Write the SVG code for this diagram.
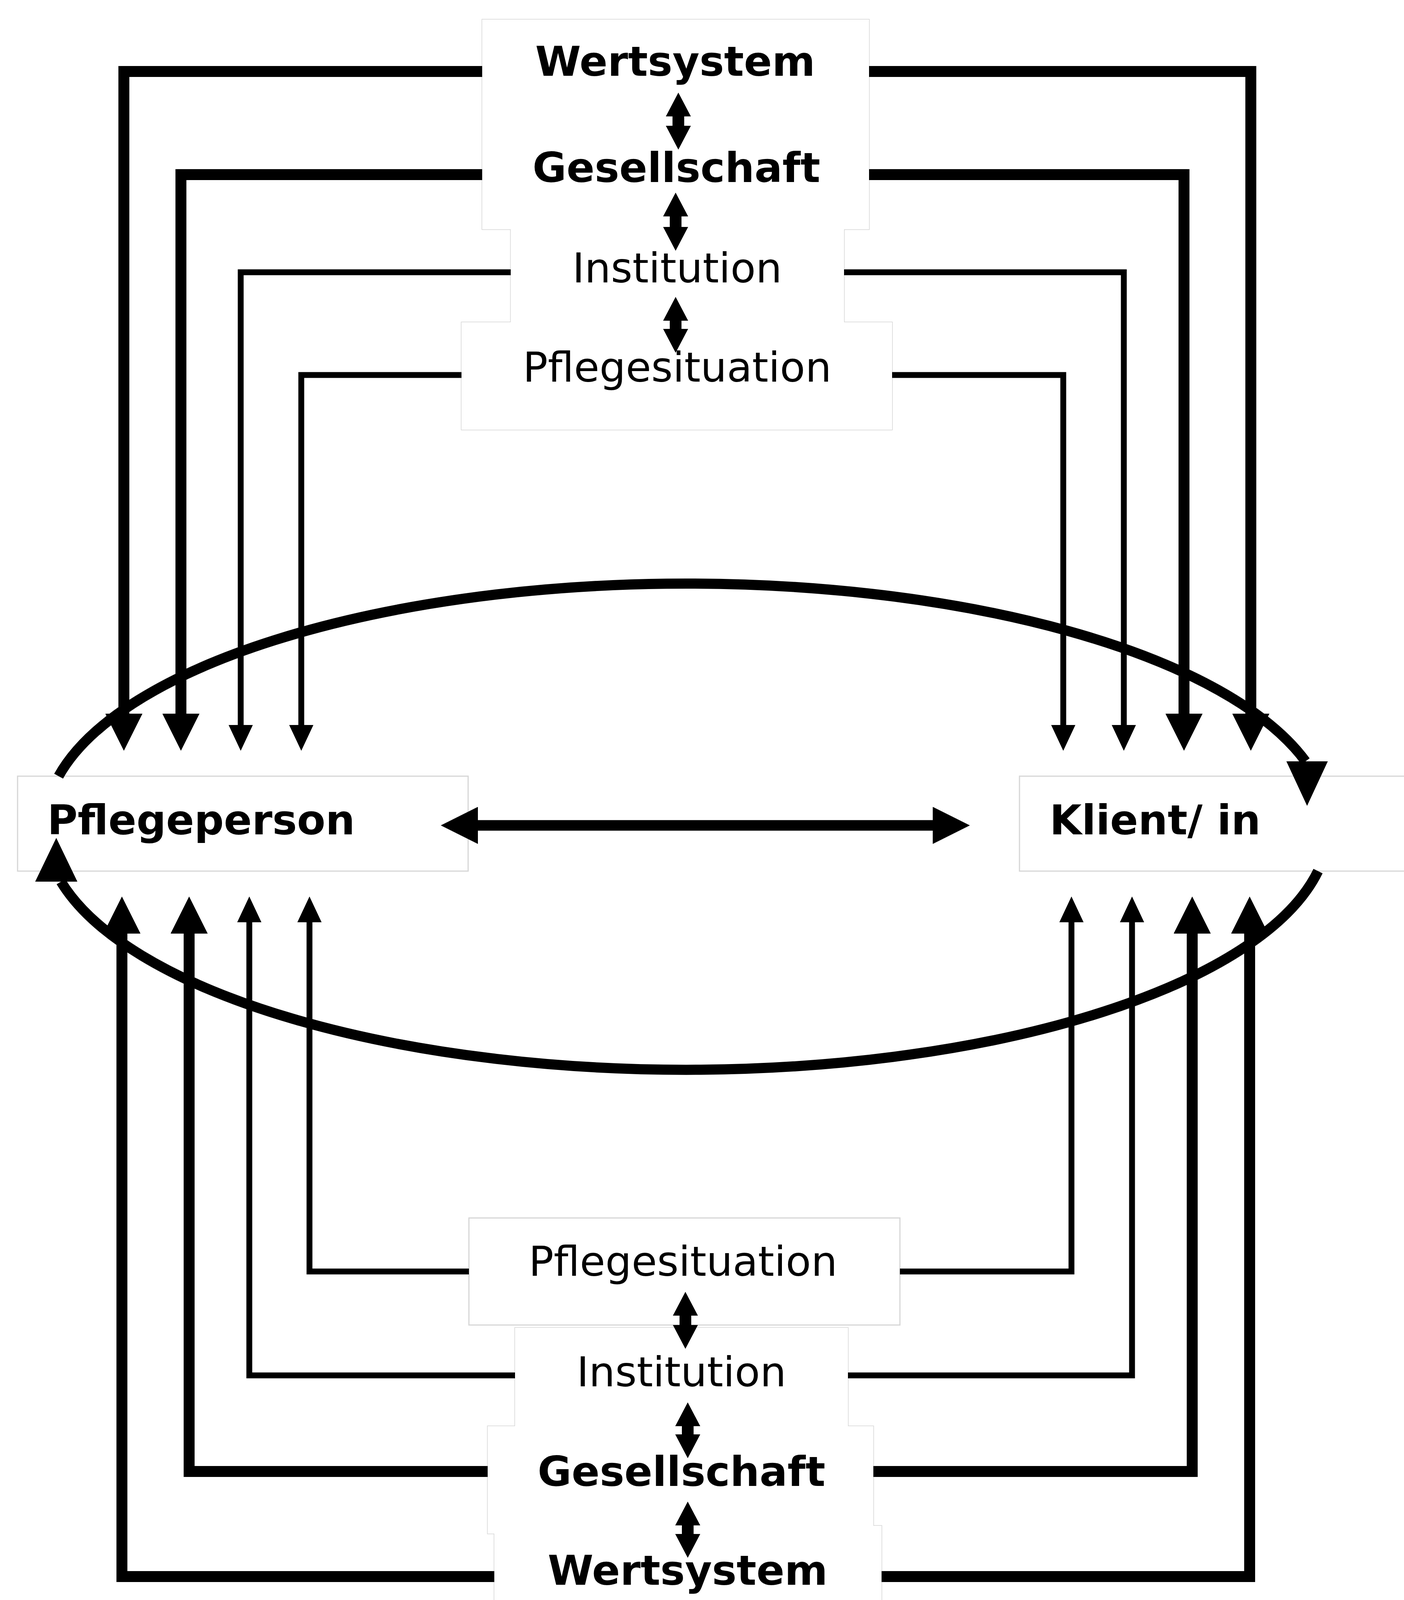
<svg xmlns="http://www.w3.org/2000/svg" width="3593" height="4168" viewBox="0 0 3593 4168">
<defs>
<style>
.frame{fill:#fff;stroke:#d6d6d6;stroke-width:3}
.box{fill:#fff;stroke:none}
.lbl{font-family:"DejaVu Sans","Liberation Sans",sans-serif;font-size:106px;fill:#000;text-anchor:middle}
.st{text-anchor:start}
.b{font-weight:bold}
.thick{fill:none;stroke:#000;stroke-width:28;stroke-linejoin:miter;marker-end:url(#hThick)}
.thin{fill:none;stroke:#000;stroke-width:15;stroke-linejoin:miter;marker-end:url(#hThin)}
.arc{fill:none;stroke:#000;stroke-width:26}
.dbl{stroke:#000;stroke-width:30;marker-start:url(#hDbl);marker-end:url(#hDbl)}
.mid{stroke:#000;stroke-width:27;marker-start:url(#hThick);marker-end:url(#hThick)}
.head{fill:#000}
</style>
<marker id="hThick" markerUnits="userSpaceOnUse" viewBox="0 0 95 95" refX="0" refY="47.5" markerWidth="95" markerHeight="95" orient="auto-start-reverse"><path d="M0,0 L95,47.5 L0,95 z" fill="#000"/></marker>
<marker id="hThin" markerUnits="userSpaceOnUse" viewBox="0 0 66 62" refX="0" refY="31" markerWidth="66" markerHeight="62" orient="auto"><path d="M0,0 L66,31 L0,62 z" fill="#000"/></marker>
<marker id="hDbl" markerUnits="userSpaceOnUse" viewBox="0 0 61 64" refX="0" refY="32" markerWidth="61" markerHeight="64" orient="auto-start-reverse"><path d="M0,0 L61,32 L0,64 z" fill="#000"/></marker>
</defs>
<rect width="3593" height="4168" fill="#fff"/>

<g id="nodes">
  <path id="top-stack-frame" class="frame" d="M1234,50 H2224 V587 H2160 V825 H2283 V1100 H1181 V825 H1307 V587 H1234 Z"/>
  <g id="wertsystem-top">
    <rect class="box" x="1234" y="50" width="990" height="268"/>
    <text class="lbl b" x="1728" y="194">Wertsystem</text>
  </g>
  <g id="gesellschaft-top">
    <rect class="box" x="1234" y="318" width="990" height="269"/>
    <text class="lbl b" x="1731" y="466">Gesellschaft</text>
  </g>
  <g id="institution-top">
    <rect class="box" x="1307" y="587" width="853" height="238"/>
    <text class="lbl" x="1733" y="723">Institution</text>
  </g>
  <g id="pflegesituation-top">
    <rect class="box" x="1181" y="825" width="1102" height="275"/>
    <text class="lbl" x="1733" y="977">Pflegesituation</text>
  </g>

  <g id="pflegeperson">
    <rect class="frame" x="45" y="1987" width="1153" height="243"/>
    <text class="lbl b st" x="121" y="2136">Pflegeperson</text>
  </g>
  <g id="klient">
    <rect class="frame" x="2609" y="1987" width="1000" height="243"/>
    <text class="lbl b st" x="2686" y="2136">Klient/ in</text>
  </g>

  <g id="pflegesituation-bottom">
    <rect class="frame" x="1200" y="3118" width="1103" height="274"/>
    <text class="lbl" x="1748" y="3266">Pflegesituation</text>
  </g>
  <path id="bottom-stack-frame" class="frame" d="M1318,3399 H2170 V3651 H2235 V3906 H2256 V4175 H1265 V3926 H1248 V3651 H1318 Z"/>
  <g id="institution-bottom">
    <rect class="box" x="1318" y="3399" width="852" height="252"/>
    <text class="lbl" x="1744" y="3549">Institution</text>
  </g>
  <g id="gesellschaft-bottom">
    <rect class="box" x="1248" y="3651" width="987" height="275"/>
    <text class="lbl b" x="1744" y="3804">Gesellschaft</text>
  </g>
  <g id="wertsystem-bottom">
    <rect class="box" x="1265" y="3926" width="991" height="245"/>
    <rect class="box" x="2235" y="3906" width="21" height="20"/>
    <text class="lbl b" x="1760" y="4057">Wertsystem</text>
  </g>
</g>

<g id="connectors">
  <!-- top, left side -->
  <path class="thick" d="M1234,183 H317 V1827"/>
  <path class="thick" d="M1234,447 H463 V1827"/>
  <path class="thin" d="M1307,697 H616 V1856"/>
  <path class="thin" d="M1181,960 H771 V1856"/>
  <!-- top, right side -->
  <path class="thick" d="M2224,183 H3201 V1827"/>
  <path class="thick" d="M2224,447 H3030 V1827"/>
  <path class="thin" d="M2160,697 H2876 V1856"/>
  <path class="thin" d="M2283,960 H2721 V1856"/>
  <!-- bottom, left side -->
  <path class="thin" d="M1200,3255 H792 V2361"/>
  <path class="thin" d="M1318,3521 H638 V2361"/>
  <path class="thick" d="M1248,3767 H484 V2390"/>
  <path class="thick" d="M1265,4036 H312 V2390"/>
  <!-- bottom, right side -->
  <path class="thin" d="M2303,3255 H2742 V2361"/>
  <path class="thin" d="M2170,3521 H2897 V2361"/>
  <path class="thick" d="M2235,3767 H3051 V2390"/>
  <path class="thick" d="M2256,4036 H3198 V2390"/>
  <!-- ellipse arcs -->
  <path class="arc" d="M150,1987 A1643,621 0 0 1 3341,1949"/>
  <polygon class="head" points="3292,1949 3398,1949 3345,2063"/>
  <path class="arc" d="M3373,2230 A1643,621 0 0 1 156,2257"/>
  <polygon class="head" points="90,2257 198,2257 144,2145"/>
  <!-- Pflegeperson <-> Klient -->
  <line class="mid" x1="1223" y1="2113" x2="2387" y2="2113"/>
  <!-- stack double arrows, top -->
  <line class="dbl" x1="1736" y1="298" x2="1736" y2="322"/>
  <line class="dbl" x1="1729" y1="554" x2="1729" y2="581"/>
  <line class="dbl" x1="1729" y1="821" x2="1729" y2="842"/>
  <!-- stack double arrows, bottom -->
  <line class="dbl" x1="1754" y1="3368" x2="1754" y2="3392"/>
  <line class="dbl" x1="1760" y1="3651" x2="1760" y2="3672"/>
  <line class="dbl" x1="1760" y1="3905" x2="1760" y2="3927"/>
</g>
</svg>
